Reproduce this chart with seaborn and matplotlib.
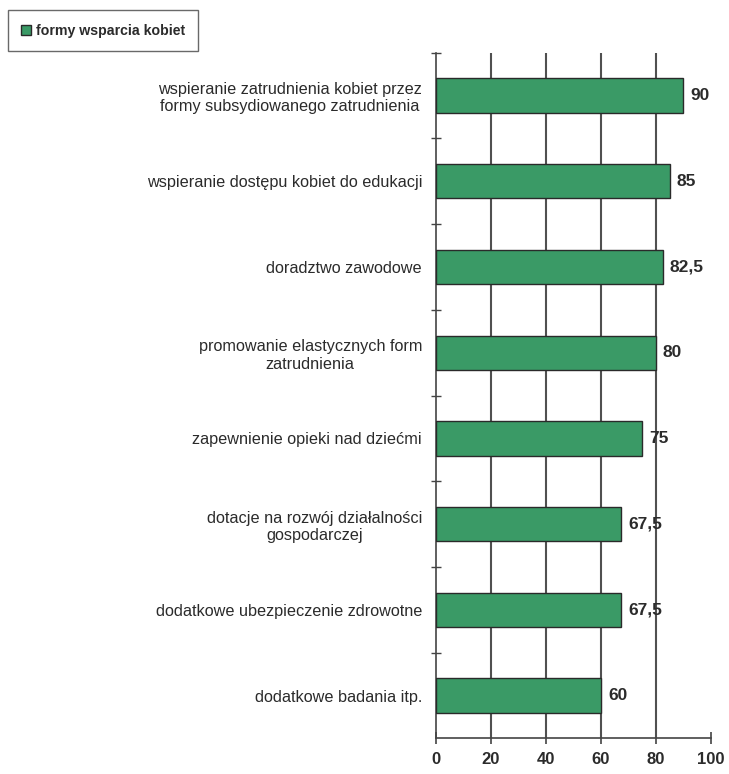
import matplotlib
matplotlib.use("Agg")
import matplotlib.pyplot as plt
import seaborn as sns
import pandas as pd
from matplotlib.patches import Patch

categories = [
    "wspieranie zatrudnienia kobiet przez\nformy subsydiowanego zatrudnienia",
    "wspieranie dostępu kobiet do edukacji",
    "doradztwo zawodowe",
    "promowanie elastycznych form\nzatrudnienia",
    "zapewnienie opieki nad dziećmi",
    "dotacje na rozwój działalności\ngospodarczej",
    "dodatkowe ubezpieczenie zdrowotne",
    "dodatkowe badania itp.",
]
values = [90, 85, 82.5, 80, 75, 67.5, 67.5, 60]
value_labels = ["90", "85", "82,5", "80", "75", "67,5", "67,5", "60"]
series_name = "formy wsparcia kobiet"
x_ticks = [0, 20, 40, 60, 80, 100]

df = pd.DataFrame({"kategoria": categories, "wartosc": values, "seria": series_name})

sns.set_style("white")
plt.rcParams["font.family"] = ["Liberation Sans", "DejaVu Sans"]

green = "#3a9a66"
text_col = "#2b2b2b"
line_col = "#444444"

fig = plt.figure(figsize=(7.29, 7.74), dpi=100)
ax = fig.add_axes([0.598, 0.046, 0.377, 0.886])

sns.barplot(data=df, x="wartosc", y="kategoria", hue="seria", palette=[green],
            saturation=1, orient="h", width=0.4, edgecolor="#2a2a2a",
            linewidth=1.0, ax=ax, legend=False, zorder=3)

ax.set_xlim(0, 100)
ax.set_ylim(len(categories) - 0.5, -0.5)
ax.set_xlabel("")
ax.set_ylabel("")

# vertical grid lines at inner ticks
for t in x_ticks[1:-1]:
    ax.axvline(t, color="#505050", linewidth=1.5, zorder=1)

for s in ["top", "right"]:
    ax.spines[s].set_visible(False)
for s in ["left", "bottom"]:
    ax.spines[s].set_color(line_col)
    ax.spines[s].set_linewidth(1.2)

ax.set_xticks(x_ticks)
ax.set_xticklabels([str(t) for t in x_ticks], fontsize=12, fontweight="bold", color=text_col)
ax.tick_params(axis="x", bottom=True, direction="inout", length=9, width=1.2,
               color=line_col, pad=5)

# category labels beside bars, minor ticks between categories
ax.set_yticks(range(len(categories)))
ax.set_yticklabels(categories, fontsize=11.7, color=text_col, ha="right",
                   multialignment="center")
ax.tick_params(axis="y", which="major", left=True, length=0, pad=10)
ax.set_yticks([i - 0.5 for i in range(len(categories))], minor=True)
ax.tick_params(axis="y", which="minor", left=True, direction="inout", length=7,
               width=1.0, color=line_col)

for i, (v, lab) in enumerate(zip(values, value_labels)):
    ax.text(v + 2.6, i, lab, va="center", ha="left", fontsize=12.5,
            fontweight="bold", color=text_col, zorder=4)

# legend box in the upper-left corner
handle = Patch(facecolor=green, edgecolor="#2a2a2a", label=series_name)
leg = fig.legend(handles=[handle], loc="upper left", bbox_to_anchor=(0.011, 0.987),
                 frameon=True, fancybox=False, handlelength=0.7,
                 handleheight=0.7, handletextpad=0.3, borderpad=0.95,
                 borderaxespad=0.0, prop={"weight": "bold", "size": 10.2})
leg.get_frame().set_edgecolor(line_col)
leg.get_frame().set_linewidth(1.0)
for t in leg.get_texts():
    t.set_color(text_col)

fig.savefig("out.png", dpi=100)
